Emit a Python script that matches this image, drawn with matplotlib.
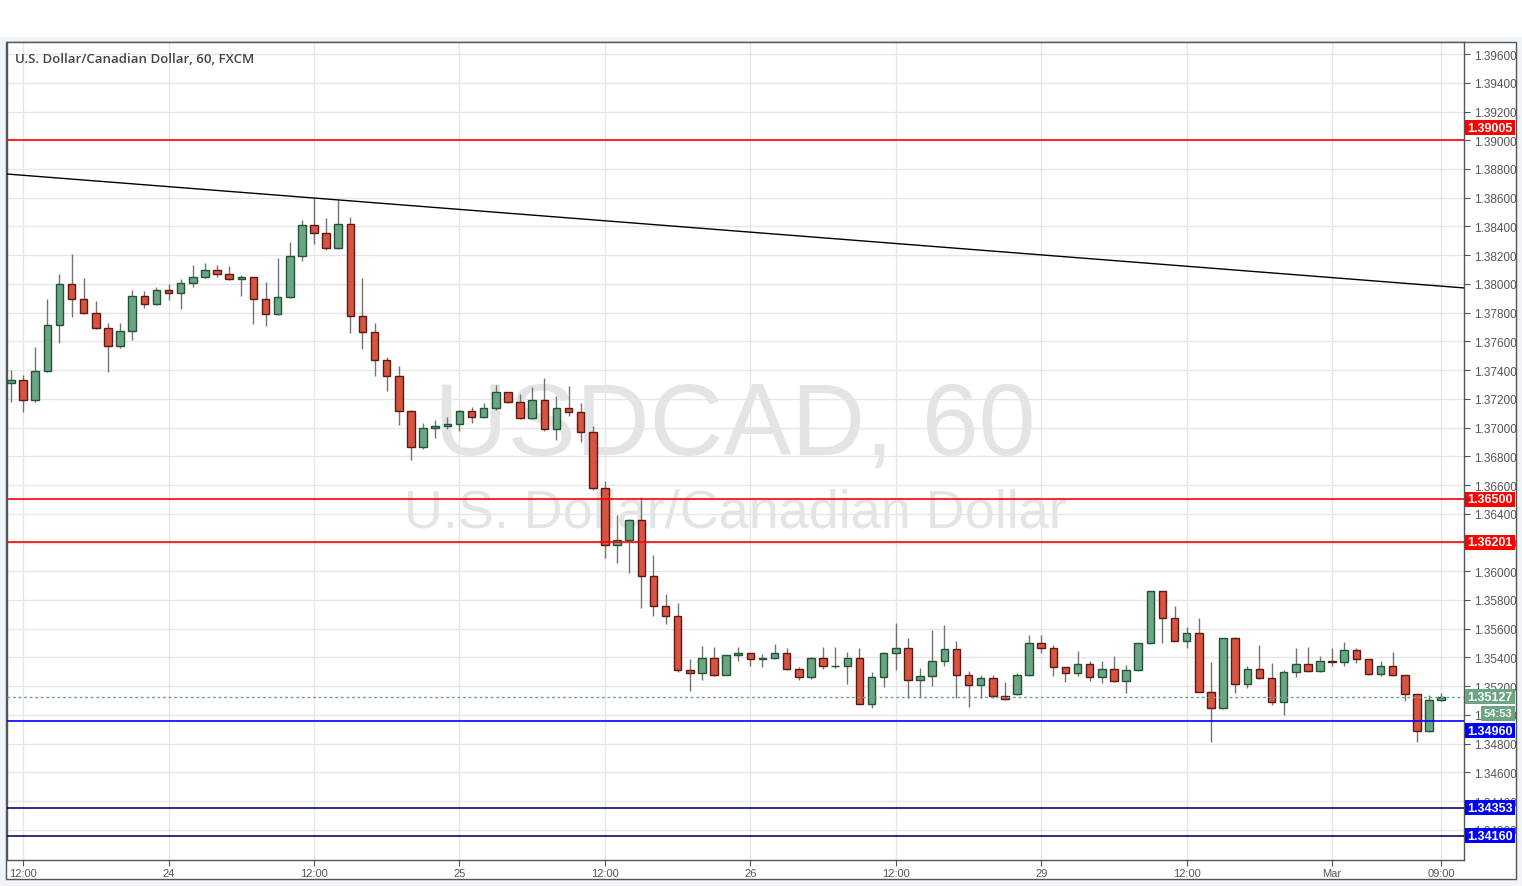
# USD/CAD 1時間足チャート (TradingView風)

import matplotlib
matplotlib.use("Agg")
import matplotlib.pyplot as plt
from matplotlib.patches import Rectangle
from matplotlib.transforms import IdentityTransform

# データ (バー番号 0 = 2/23 11:00 ... 118 = 3/1 09:00)
opens = [
    1.37308, 1.37329, 1.37190, 1.37392, 1.37712, 1.37997, 1.37893, 1.37796, 1.37691, 1.37566,
    1.37670, 1.37914, 1.37858, 1.37956, 1.37935, 1.38004, 1.38046, 1.38095, 1.38067, 1.38032,
    1.38046, 1.37893, 1.37789, 1.37907, 1.38192, 1.38408, 1.38352, 1.38248, 1.38415, 1.37777,
    1.37663, 1.37468, 1.37357, 1.37113, 1.36863, 1.36995, 1.37009, 1.37023, 1.37113, 1.37072,
    1.37134, 1.37246, 1.37176, 1.37065, 1.37190, 1.36988, 1.37134, 1.37106, 1.36967, 1.36578,
    1.36181, 1.36216, 1.36355, 1.35965, 1.35756, 1.35687, 1.35311, 1.35290, 1.35394, 1.35276,
    1.35415, 1.35429, 1.35387, 1.35394, 1.35429, 1.35318, 1.35262, 1.35394, 1.35339, 1.35339,
    1.35394, 1.35074, 1.35262, 1.35429, 1.35464, 1.35241, 1.35269, 1.35373, 1.35457, 1.35276,
    1.35206, 1.35255, 1.35130, 1.35144, 1.35276, 1.35499, 1.35464, 1.35332, 1.35290, 1.35353,
    1.35262, 1.35318, 1.35234, 1.35311, 1.35499, 1.35861, 1.35673, 1.35513, 1.35568, 1.35158,
    1.35046, 1.35534, 1.35213, 1.35318, 1.35255, 1.35088, 1.35297, 1.35353, 1.35304, 1.35373,
    1.35366, 1.35450, 1.35387, 1.35283, 1.35339, 1.35276, 1.35144, 1.34886, 1.35102,
]
highs = [
    1.37401, 1.37366, 1.37559, 1.37895, 1.38069, 1.38208, 1.38041, 1.37881, 1.37728, 1.37728,
    1.37958, 1.37949, 1.37979, 1.37999, 1.38034, 1.38130, 1.38144, 1.38130, 1.38123, 1.38060,
    1.38048, 1.38011, 1.38180, 1.38292, 1.38445, 1.38596, 1.38459, 1.38582, 1.38464, 1.38041,
    1.37728, 1.37489, 1.37429, 1.37124, 1.37032, 1.37053, 1.37074, 1.37124, 1.37141, 1.37169,
    1.37296, 1.37248, 1.37232, 1.37280, 1.37343, 1.37218, 1.37287, 1.37169, 1.37009, 1.36628,
    1.36390, 1.36362, 1.36515, 1.36111, 1.35840, 1.35777, 1.35387, 1.35478, 1.35471, 1.35417,
    1.35471, 1.35431, 1.35422, 1.35492, 1.35464, 1.35332, 1.35401, 1.35471, 1.35471, 1.35436,
    1.35464, 1.35297, 1.35436, 1.35640, 1.35534, 1.35325, 1.35591, 1.35626, 1.35513, 1.35304,
    1.35276, 1.35276, 1.35227, 1.35290, 1.35554, 1.35554, 1.35485, 1.35334, 1.35443, 1.35373,
    1.35373, 1.35408, 1.35346, 1.35501, 1.35863, 1.35863, 1.35756, 1.35610, 1.35673, 1.35366,
    1.35536, 1.35541, 1.35339, 1.35485, 1.35360, 1.35311, 1.35464, 1.35471, 1.35408, 1.35464,
    1.35506, 1.35464, 1.35392, 1.35373, 1.35436, 1.35278, 1.35146, 1.35137, 1.35151,
]
lows = [
    1.37180, 1.37111, 1.37180, 1.37390, 1.37591, 1.37772, 1.37790, 1.37688, 1.37389, 1.37556,
    1.37612, 1.37834, 1.37855, 1.37890, 1.37828, 1.37981, 1.38044, 1.38046, 1.38030, 1.37918,
    1.37723, 1.37709, 1.37787, 1.37905, 1.38162, 1.38280, 1.38234, 1.38245, 1.37660, 1.37549,
    1.37361, 1.37257, 1.37020, 1.36777, 1.36849, 1.36930, 1.36988, 1.36974, 1.37030, 1.37070,
    1.37120, 1.37174, 1.37058, 1.37063, 1.36974, 1.36912, 1.37079, 1.36903, 1.36568, 1.36094,
    1.36060, 1.35990, 1.35746, 1.35691, 1.35635, 1.35297, 1.35165, 1.35241, 1.35269, 1.35275,
    1.35373, 1.35339, 1.35332, 1.35392, 1.35316, 1.35241, 1.35248, 1.35318, 1.35325, 1.35213,
    1.35073, 1.35046, 1.35192, 1.35315, 1.35116, 1.35116, 1.35204, 1.35339, 1.35116, 1.35053,
    1.35116, 1.35116, 1.35107, 1.35142, 1.35274, 1.35429, 1.35269, 1.35227, 1.35269, 1.35234,
    1.35220, 1.35232, 1.35151, 1.35309, 1.35492, 1.35499, 1.35511, 1.35464, 1.35156, 1.34814,
    1.35044, 1.35151, 1.35186, 1.35253, 1.35067, 1.34998, 1.35262, 1.35302, 1.35297, 1.35339,
    1.35339, 1.35360, 1.35281, 1.35269, 1.35269, 1.35095, 1.34810, 1.34884, 1.35100,
]
closes = [
    1.37329, 1.37190, 1.37392, 1.37712, 1.37997, 1.37893, 1.37796, 1.37691, 1.37566, 1.37670,
    1.37914, 1.37858, 1.37956, 1.37935, 1.38004, 1.38046, 1.38095, 1.38067, 1.38032, 1.38046,
    1.37893, 1.37789, 1.37907, 1.38192, 1.38408, 1.38352, 1.38248, 1.38415, 1.37777, 1.37663,
    1.37468, 1.37357, 1.37113, 1.36863, 1.36995, 1.37009, 1.37023, 1.37113, 1.37072, 1.37134,
    1.37246, 1.37176, 1.37065, 1.37190, 1.36988, 1.37134, 1.37106, 1.36967, 1.36578, 1.36181,
    1.36216, 1.36355, 1.35965, 1.35756, 1.35687, 1.35311, 1.35290, 1.35394, 1.35276, 1.35415,
    1.35429, 1.35387, 1.35394, 1.35429, 1.35318, 1.35262, 1.35394, 1.35339, 1.35340, 1.35394,
    1.35074, 1.35262, 1.35429, 1.35464, 1.35241, 1.35269, 1.35373, 1.35457, 1.35276, 1.35206,
    1.35255, 1.35130, 1.35109, 1.35276, 1.35499, 1.35464, 1.35332, 1.35290, 1.35353, 1.35262,
    1.35318, 1.35234, 1.35311, 1.35499, 1.35861, 1.35673, 1.35513, 1.35568, 1.35158, 1.35046,
    1.35534, 1.35213, 1.35318, 1.35255, 1.35088, 1.35297, 1.35353, 1.35304, 1.35373, 1.35366,
    1.35450, 1.35387, 1.35283, 1.35339, 1.35276, 1.35144, 1.34886, 1.35102, 1.35127,
]

# 時間軸ラベル
tick_bars = [1, 13, 25, 37, 49, 61, 73, 85, 97, 109, 118]
tick_labels = ["12:00", "24", "12:00", "25", "12:00", "26", "12:00", "29", "12:00", "Mar", "09:00"]

# 水平ライン
level_prices = [1.39005, 1.36500, 1.36201, 1.34960, 1.34353, 1.34160]
level_colors = ["#ff0000", "#ff0000", "#ff0000", "#0000ff", "#0a0a6e", "#0a0a6e"]
level_box_colors = ["#ff0000", "#ff0000", "#ff0000", "#0000ff", "#0000ff", "#0000ff"]
level_box_shift = [-12, 0, 0, 10, 0, 0]  # ラベルの重なり回避 (px)

# トレンドライン (バー番号, 価格)
trend_x = [-0.33, 119.9]
trend_y = [1.38765, 1.37972]

last_price = 1.35127
countdown = "54:53"

UP_FACE, UP_EDGE = "#6ba583", "#225437"
DN_FACE, DN_EDGE = "#d75442", "#5b1a13"
WICK = "#737375"

W, H = 1522, 887
fig = plt.figure(figsize=(W / 100, H / 100), dpi=100, facecolor="#f0f3f7")
px = IdentityTransform()

# 上部の白帯とチャートパネル
fig.add_artist(Rectangle((0, H - 38), W, 38, transform=px, facecolor="white",
                         edgecolor="none", zorder=0.1))
fig.add_artist(Rectangle((6, H - 880), 1510, 880 - 42.5, transform=px, facecolor="white",
                         edgecolor="#555555", lw=1, zorder=0.2))

ax = fig.add_axes([7 / W, (H - 861) / H, (1464 - 7) / W, (861 - 43) / H])
ax.set_zorder(1)
ax.set_facecolor("white")
ax.set_xlim(-0.33, 119.88)
ax.set_ylim(1.33990, 1.39684)

# ウォーターマーク
ax.text(0.4995, 0.4963, "USDCAD, 60", transform=ax.transAxes, ha="center", va="baseline",
        fontsize=73.5, family="Liberation Sans", color="#e4e4e4", zorder=0)
ax.text(0.4997, 0.4083, "U.S. Dollar/Canadian Dollar", transform=ax.transAxes, ha="center",
        va="baseline", fontsize=38.9, family="Liberation Sans", color="#e4e4e4", zorder=0)

# グリッド
yt = [round(1.342 + 0.002 * k, 3) for k in range(28)]
ax.set_yticks(yt)
ax.set_yticklabels([f"{v:.5f}" for v in yt])
ax.set_xticks(tick_bars)
ax.set_xticklabels(tick_labels)
ax.grid(True, color="#e6e6e6", lw=1)
ax.set_axisbelow(True)

ax.yaxis.tick_right()
ax.tick_params(axis="y", direction="out", length=4, width=0.8, color="#555555",
               labelcolor="#555555", labelsize=8.5, pad=3)
ax.tick_params(axis="x", direction="out", length=4, width=0.8, color="#555555",
               labelcolor="#555555", labelsize=8, pad=2)
for lab in ax.get_xticklabels() + ax.get_yticklabels():
    lab.set_family("Liberation Sans")
for s in ax.spines.values():
    s.set_color("#555555")
    s.set_linewidth(1)

# ローソク足
x = list(range(len(opens)))
ax.vlines(x, lows, highs, color=WICK, lw=1, zorder=2)
bottoms = [min(o, c) for o, c in zip(opens, closes)]
heights = [max(abs(c - o), 0.00002) for o, c in zip(opens, closes)]
faces = [UP_FACE if c >= o else DN_FACE for o, c in zip(opens, closes)]
edges = [UP_EDGE if c >= o else DN_EDGE for o, c in zip(opens, closes)]
ax.bar(x, heights, bottom=bottoms, width=0.62, color=faces, edgecolor=edges, lw=1, zorder=3)

# ライン
ax.plot(trend_x, trend_y, color="black", lw=1, zorder=4)
for p, c in zip(level_prices, level_colors):
    ax.axhline(p, color=c, lw=1.2, zorder=4)
ax.axhline(last_price, color=UP_FACE, lw=1, ls=(0, (2, 2)), zorder=4)

# タイトル
fig.text(15, H - 60, "U.S. Dollar/Canadian Dollar, 60, FXCM", transform=px, ha="left",
         va="center", fontsize=9.5, family="Open Sans", fontweight="semibold", color="#444444")


# 価格ラベル
def price_box(yc, text, color, x0=1465, x1=1515, size=9):
    fig.add_artist(Rectangle((x0, H - yc - 7.5), x1 - x0, 15, transform=px, facecolor=color,
                             edgecolor="none", zorder=5))
    fig.text((x0 + x1) / 2, H - yc, text, transform=px, ha="center", va="center",
             fontsize=size, family="Liberation Sans", fontweight="bold", color="white", zorder=6)


def price_to_py(p):
    return H - ax.transData.transform((0, p))[1]


for p, c, sh in zip(level_prices, level_box_colors, level_box_shift):
    price_box(price_to_py(p) + sh, f"{p:.5f}", c)
yl = price_to_py(last_price)
price_box(yl, f"{last_price:.5f}", UP_FACE)
price_box(yl + 16.5, countdown, UP_FACE, x0=1481, size=8)

fig.savefig("out.png", dpi=100, facecolor=fig.get_facecolor())
